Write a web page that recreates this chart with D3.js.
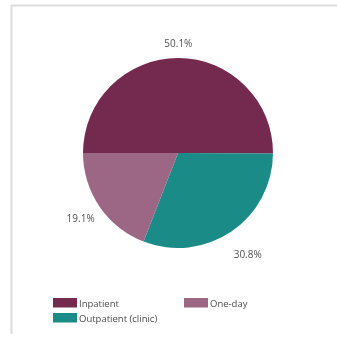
<!DOCTYPE html>
<html>
<head>
<meta charset="utf-8">
<script src="https://cdn.jsdelivr.net/npm/d3@7"></script>
<style>
  html, body { margin: 0; padding: 0; background: #fff; }
  svg { display: block; filter: blur(0.55px); }
  text { font-family: "Open Sans", "Liberation Sans", sans-serif; }
</style>
</head>
<body>
<div id="chart"></div>
<script>
// Share of care by setting, drawn clockwise from 9 o'clock
const categories = ["Inpatient", "Outpatient (clinic)", "One-day"];
const shares = [50.1, 30.8, 19.1];
const sliceColors = ["#74294f", "#1a8b86", "#9b6785"];
const valueLabels = ["50.1%", "30.8%", "19.1%"];

// Legend layout order
const legendOrder = ["Inpatient", "One-day", "Outpatient (clinic)"];

const W = 337, H = 337;
const svg = d3.select("#chart").append("svg")
  .attr("width", W).attr("height", H);

// Light frame around the plot area
svg.append("line").attr("x1", 11).attr("y1", 5.5).attr("x2", W).attr("y2", 5.5)
  .attr("stroke", "#dcdcdc").attr("stroke-width", 2);
svg.append("line").attr("x1", 11.5).attr("y1", 5).attr("x2", 11.5).attr("y2", 334)
  .attr("stroke", "#dcdcdc").attr("stroke-width", 2);

const cx = 178, cy = 153, r = 95;
const data = categories.map((c, i) => ({ cat: c, value: shares[i], color: sliceColors[i], label: valueLabels[i] }));

const pie = d3.pie().value(d => d.value).sort(null)
  .startAngle(-Math.PI / 2).endAngle(1.5 * Math.PI);
const arcs = pie(data);
const arc = d3.arc().innerRadius(0).outerRadius(r);

const g = svg.append("g").attr("transform", `translate(${cx},${cy})`);
g.selectAll("path").data(arcs).enter().append("path")
  .attr("d", arc)
  .attr("fill", d => d.data.color);

// Percentage labels placed outside each slice, along its mid-angle
const labelOffsets = { "Inpatient": r + 14, "Outpatient (clinic)": r + 29, "One-day": r + 23 };
g.selectAll("text.val").data(arcs).enter().append("text")
  .attr("class", "val")
  .attr("transform", d => {
    const a = (d.startAngle + d.endAngle) / 2;
    const rr = labelOffsets[d.data.cat];
    return `translate(${Math.sin(a) * rr},${-Math.cos(a) * rr})`;
  })
  .attr("text-anchor", "middle")
  .attr("dominant-baseline", "middle")
  .attr("font-size", 10)
  .attr("fill", "#505050")
  .text(d => d.data.label);

// Legend
const legendPos = {
  "Inpatient": [53, 298],
  "One-day": [184, 298],
  "Outpatient (clinic)": [53, 313]
};
const colorOf = d3.scaleOrdinal().domain(categories).range(sliceColors);
const leg = svg.append("g");
legendOrder.forEach(c => {
  const [x, y] = legendPos[c];
  leg.append("rect").attr("x", x).attr("y", y).attr("width", 24).attr("height", 9.5)
    .attr("fill", colorOf(c));
  leg.append("text").attr("x", x + 26).attr("y", y + 8.5)
    .attr("font-size", 9.5).attr("fill", "#4a4a4a").text(c);
});
</script>
</body>
</html>
